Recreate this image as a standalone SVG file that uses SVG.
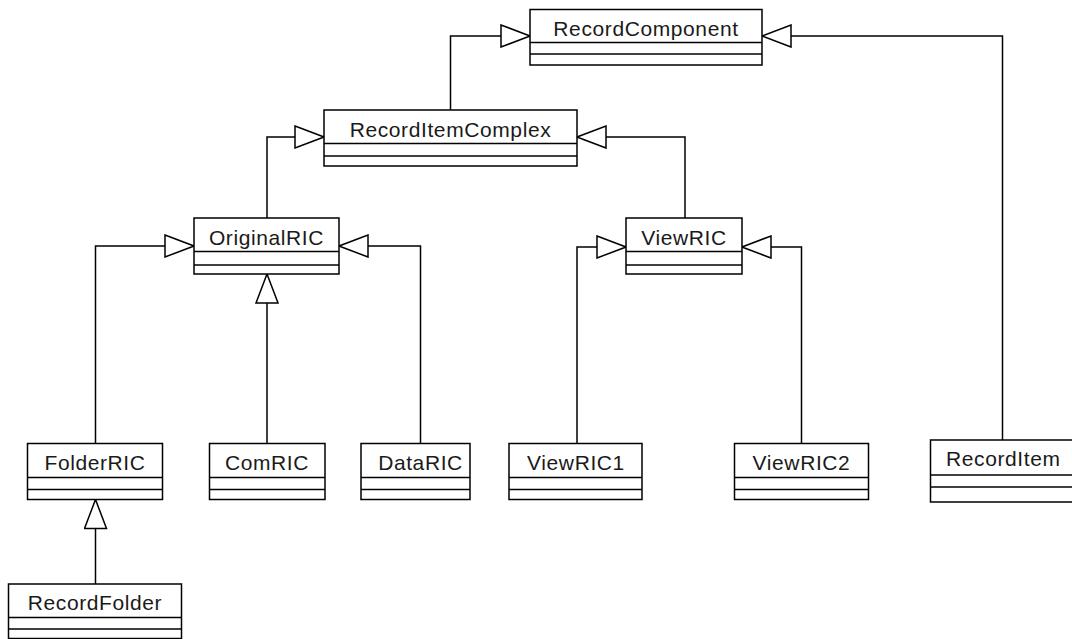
<svg xmlns="http://www.w3.org/2000/svg" width="1072" height="639" viewBox="0 0 1072 639">
<style>
.box{fill:#fff;stroke:#000;stroke-width:1.5}
.div{stroke:#000;stroke-width:1.5}
.lbl{font-family:"Liberation Sans",Arial,sans-serif;font-size:21px;letter-spacing:0.6px;fill:#1a1a1a;text-anchor:middle}
.conn{fill:none;stroke:#000;stroke-width:1.5}
</style>
<defs>
<marker id="gen" markerUnits="userSpaceOnUse" viewBox="0 0 31 24" refX="30" refY="12" markerWidth="31" markerHeight="24" orient="auto">
<path d="M1,1 L30,12 L1,23 Z" fill="#fff" stroke="#000" stroke-width="1.5"/>
</marker>
</defs>
<rect width="1072" height="639" fill="#fff"/>
<g id="connectors">
<path class="conn" d="M450.5,110 V36 H530" marker-end="url(#gen)"/>
<path class="conn" d="M1002.5,440 V36 H762" marker-end="url(#gen)"/>
<path class="conn" d="M267,218 V137 H324" marker-end="url(#gen)"/>
<path class="conn" d="M685,218 V137 H577" marker-end="url(#gen)"/>
<path class="conn" d="M95.5,443.5 V246 H194" marker-end="url(#gen)"/>
<path class="conn" d="M267,443.5 V274" marker-end="url(#gen)"/>
<path class="conn" d="M420.5,443.5 V246 H339" marker-end="url(#gen)"/>
<path class="conn" d="M577,443.5 V247 H626" marker-end="url(#gen)"/>
<path class="conn" d="M801.5,443.5 V247 H742" marker-end="url(#gen)"/>
<path class="conn" d="M95.5,584 V499.5" marker-end="url(#gen)"/>
</g>
<g id="RecordComponent">
<rect class="box" x="530" y="9.5" width="232" height="55.5"/>
<line class="div" x1="530" y1="42.5" x2="762" y2="42.5"/>
<line class="div" x1="530" y1="54" x2="762" y2="54"/>
<text class="lbl" x="646" y="36">RecordComponent</text>
</g>
<g id="RecordItemComplex">
<rect class="box" x="324" y="110" width="253" height="56"/>
<line class="div" x1="324" y1="143.5" x2="577" y2="143.5"/>
<line class="div" x1="324" y1="156" x2="577" y2="156"/>
<text class="lbl" x="450.5" y="136.5">RecordItemComplex</text>
</g>
<g id="OriginalRIC">
<rect class="box" x="194" y="218" width="145" height="56"/>
<line class="div" x1="194" y1="251.5" x2="339" y2="251.5"/>
<line class="div" x1="194" y1="265" x2="339" y2="265"/>
<text class="lbl" x="266.5" y="244.5">OriginalRIC</text>
</g>
<g id="ViewRIC">
<rect class="box" x="626" y="218" width="116" height="56"/>
<line class="div" x1="626" y1="251.5" x2="742" y2="251.5"/>
<line class="div" x1="626" y1="265" x2="742" y2="265"/>
<text class="lbl" x="684" y="244.5">ViewRIC</text>
</g>
<g id="FolderRIC">
<rect class="box" x="27.5" y="443.5" width="135" height="56"/>
<line class="div" x1="27.5" y1="477.5" x2="162.5" y2="477.5"/>
<line class="div" x1="27.5" y1="489.5" x2="162.5" y2="489.5"/>
<text class="lbl" x="95" y="470">FolderRIC</text>
</g>
<g id="ComRIC">
<rect class="box" x="209.5" y="443.5" width="115.5" height="56"/>
<line class="div" x1="209.5" y1="477.5" x2="325" y2="477.5"/>
<line class="div" x1="209.5" y1="489.5" x2="325" y2="489.5"/>
<text class="lbl" x="267" y="470">ComRIC</text>
</g>
<g id="DataRIC">
<rect class="box" x="361" y="443.5" width="109" height="56"/>
<line class="div" x1="361" y1="477.5" x2="470" y2="477.5"/>
<line class="div" x1="361" y1="489.5" x2="470" y2="489.5"/>
<text class="lbl" x="420.5" y="470">DataRIC</text>
</g>
<g id="ViewRIC1">
<rect class="box" x="509" y="443.5" width="133" height="56"/>
<line class="div" x1="509" y1="477.5" x2="642" y2="477.5"/>
<line class="div" x1="509" y1="489.5" x2="642" y2="489.5"/>
<text class="lbl" x="576" y="470">ViewRIC1</text>
</g>
<g id="ViewRIC2">
<rect class="box" x="734.5" y="443.5" width="134" height="56"/>
<line class="div" x1="734.5" y1="477.5" x2="868.5" y2="477.5"/>
<line class="div" x1="734.5" y1="489.5" x2="868.5" y2="489.5"/>
<text class="lbl" x="801.5" y="470">ViewRIC2</text>
</g>
<g id="RecordItem">
<rect class="box" x="930.5" y="440" width="145" height="62"/>
<line class="div" x1="930.5" y1="475" x2="1075.5" y2="475"/>
<line class="div" x1="930.5" y1="487" x2="1075.5" y2="487"/>
<text class="lbl" x="1003.3" y="466">RecordItem</text>
</g>
<g id="RecordFolder">
<rect class="box" x="8.5" y="584" width="173" height="54.5"/>
<line class="div" x1="8.5" y1="617.5" x2="181.5" y2="617.5"/>
<line class="div" x1="8.5" y1="629" x2="181.5" y2="629"/>
<text class="lbl" x="95" y="610">RecordFolder</text>
</g>
</svg>
